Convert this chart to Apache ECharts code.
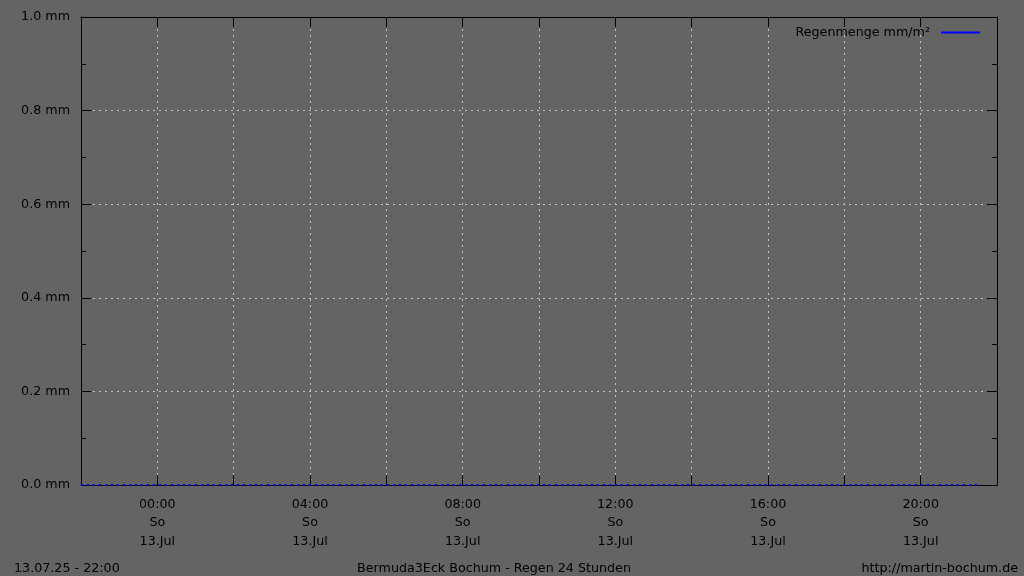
<!DOCTYPE html>
<html><head><meta charset="utf-8">
<script src="https://cdn.jsdelivr.net/npm/echarts@6/dist/echarts.min.js"></script>
<style>html,body{margin:0;padding:0;background:#646464;}#c{width:1024px;height:576px;}</style>
</head><body><div id="c"></div>
<script>
const times = ["2025-07-12T22:00","2025-07-12T23:00","2025-07-13T00:00","2025-07-13T01:00","2025-07-13T02:00","2025-07-13T03:00","2025-07-13T04:00","2025-07-13T05:00","2025-07-13T06:00","2025-07-13T07:00","2025-07-13T08:00","2025-07-13T09:00","2025-07-13T10:00","2025-07-13T11:00","2025-07-13T12:00","2025-07-13T13:00","2025-07-13T14:00","2025-07-13T15:00","2025-07-13T16:00","2025-07-13T17:00","2025-07-13T18:00","2025-07-13T19:00","2025-07-13T20:00","2025-07-13T21:00","2025-07-13T21:30"];
const rain = [0,0,0,0,0,0,0,0,0,0,0,0,0,0,0,0,0,0,0,0,0,0,0,0,0];
const xTickLabels = {0:"00:00",4:"04:00",8:"08:00",12:"12:00",16:"16:00",20:"20:00"};
const dayLabel = "So";
const dateLabel = "13.Jul";
const seriesName = "Regenmenge mm/m²";
const footerLeft = "13.07.25 - 22:00";
const footerCenter = "Bermuda3Eck Bochum - Regen 24 Stunden";
const footerRight = "http://martin-bochum.de";

const base = new Date("2025-07-13T00:00").getTime();
const pts = times.map((t,i)=>[(new Date(t).getTime()-base)/3600000, rain[i]]);

const font = "DejaVu Sans";
const txt = {color:"#000", fontFamily:font, fontSize:12.7, fontWeight:'normal'};
const grid = {color:"#c2c2c2", width:1, type:[2,4]};

const chart = echarts.init(document.getElementById('c'));
chart.setOption({
  backgroundColor:"#646464",
  animation:false,
  title:[
    {text:footerLeft, left:9, top:557, textStyle:txt},
    {text:footerCenter, left:489, textAlign:'center', top:557, textStyle:txt},
    {text:footerRight, right:1, top:557, textStyle:txt}
  ],
  legend:{
    right:39, top:21, align:'right', icon:'rect', itemWidth:39, itemHeight:2, itemGap:0,
    textStyle:{...txt, padding:[0,6,0,0]},
    itemStyle:{color:"#0000ff"},
    data:[seriesName]
  },
  grid:{left:81, right:27, top:17, bottom:91, containLabel:false},
  xAxis:[{
    type:'value', min:-2, max:22, interval:2,
    axisLine:{show:true, onZero:false, lineStyle:{color:"#000", width:1}},
    axisTick:{show:true, inside:true, length:10, lineStyle:{color:"#000"}},
    splitLine:{show:true, lineStyle:grid},
    axisLabel:{...txt, lineHeight:18.5, margin:10,
      formatter:v=> xTickLabels[v]!==undefined ? xTickLabels[v]+"\n"+dayLabel+"\n"+dateLabel : ""}
  },{
    type:'value', position:'top', min:-2, max:22, interval:2,
    axisLine:{show:true, onZero:false, lineStyle:{color:"#000", width:1}},
    axisTick:{show:true, inside:true, length:10, lineStyle:{color:"#000"}},
    splitLine:{show:false}, axisLabel:{show:false}
  }],
  yAxis:[{
    type:'value', min:0, max:1, interval:0.2,
    axisLine:{show:true, onZero:false, lineStyle:{color:"#000", width:1}},
    axisTick:{show:true, inside:true, length:10, lineStyle:{color:"#000"}},
    minorTick:{show:true, splitNumber:2, length:5, lineStyle:{color:"#000"}},
    splitLine:{show:true, lineStyle:grid},
    axisLabel:{...txt, margin:11, padding:[4,0,0,0], formatter:v=>v.toFixed(1)+" mm"}
  },{
    type:'value', position:'right', min:0, max:1, interval:0.2,
    axisLine:{show:true, onZero:false, lineStyle:{color:"#000", width:1}},
    axisTick:{show:true, inside:true, length:10, lineStyle:{color:"#000"}},
    minorTick:{show:true, splitNumber:2, length:5, lineStyle:{color:"#000"}},
    splitLine:{show:false}, axisLabel:{show:false}
  }],
  series:[{
    name:seriesName, type:'line', data:pts, showSymbol:false, clip:false, z:5,
    lineStyle:{color:"#0000ff", width:2, type:[2,4]},
    itemStyle:{color:"#0000ff"}
  }]
});
</script></body></html>
